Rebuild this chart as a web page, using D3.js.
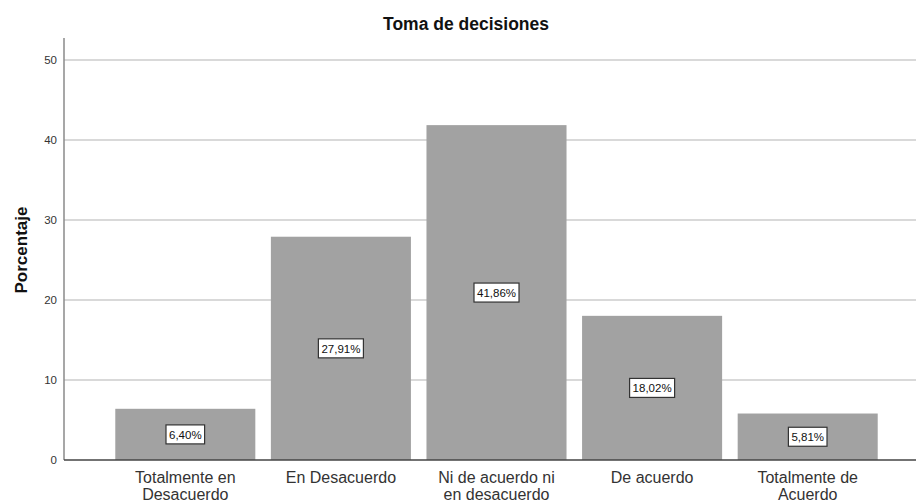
<!DOCTYPE html>
<html>
<head>
<meta charset="utf-8">
<script src="https://cdn.jsdelivr.net/npm/d3@7"></script>
<style>
  html, body { margin: 0; padding: 0; background: #fff; }
  svg { display: block; font-family: "Liberation Sans", Arial, sans-serif; }
</style>
</head>
<body>
<svg id="chart" width="916" height="504"></svg>
<script>
// categories and values
const categories = [
  ["Totalmente en", "Desacuerdo"],
  ["En Desacuerdo"],
  ["Ni de acuerdo ni", "en desacuerdo"],
  ["De acuerdo"],
  ["Totalmente de", "Acuerdo"]
];
const values = [6.40, 27.91, 41.86, 18.02, 5.81];
const valueLabels = ["6,40%", "27,91%", "41,86%", "18,02%", "5,81%"];
const yTicks = [0, 10, 20, 30, 40, 50];

const svg = d3.select("#chart");
const W = +svg.attr("width");

const left = 64, zeroY = 460;
const keys = categories.map((c, i) => i);

const x = d3.scaleBand().domain(keys).range([107.5, 885.5])
  .paddingInner(0.1).paddingOuter(0.05);
const y = d3.scaleLinear().domain([0, 50]).range([zeroY, 60]);

// title
svg.append("text")
  .attr("x", 466).attr("y", 30)
  .attr("text-anchor", "middle")
  .style("font-size", "17.5px").style("font-weight", "bold").attr("fill", "#111")
  .text("Toma de decisiones");

// y label
svg.append("text")
  .attr("transform", `translate(27,250) rotate(-90)`)
  .attr("text-anchor", "middle")
  .style("font-size", "17px").style("font-weight", "bold").attr("fill", "#111")
  .text("Porcentaje");

// gridlines
svg.append("g").selectAll("line")
  .data(yTicks.filter(t => t > 0))
  .join("line")
  .attr("x1", left).attr("x2", W)
  .attr("y1", d => y(d)).attr("y2", d => y(d))
  .attr("stroke", "#d9d9d9").attr("stroke-width", 2);

// y axis (no visible tick marks in the reference)
const yAxis = svg.append("g").attr("transform", `translate(${left},0)`)
  .call(d3.axisLeft(y).tickValues(yTicks).tickSize(0).tickPadding(7));
yAxis.select(".domain").remove();
yAxis.selectAll("text").style("font-size", "11.5px").attr("fill", "#333")
  .style("font-family", "Liberation Sans, Arial, sans-serif");
svg.append("line")
  .attr("x1", left).attr("x2", left).attr("y1", 38).attr("y2", zeroY)
  .attr("stroke", "#8a8a8a").attr("stroke-width", 1.5);

// bars
svg.append("g").selectAll("rect")
  .data(values)
  .join("rect")
  .attr("x", (d, i) => x(i))
  .attr("width", x.bandwidth())
  .attr("y", d => y(d))
  .attr("height", d => zeroY - y(d))
  .attr("fill", "#a2a2a2");

// baseline
svg.append("line")
  .attr("x1", left).attr("x2", W).attr("y1", zeroY).attr("y2", zeroY)
  .attr("stroke", "#444").attr("stroke-width", 1.5);

// value labels
const lab = svg.append("g").selectAll("g")
  .data(values)
  .join("g")
  .attr("transform", (d, i) => `translate(${x(i) + x.bandwidth() / 2},${(y(d) + zeroY) / 2})`);
lab.append("text")
  .attr("text-anchor", "middle").attr("dy", "0.36em")
  .style("font-size", "11.5px").attr("fill", "#111")
  .text((d, i) => valueLabels[i]);
lab.each(function () {
  const g = d3.select(this);
  const b = g.select("text").node().getBBox();
  g.insert("rect", "text")
    .attr("x", b.x - 3).attr("y", -9.5)
    .attr("width", b.width + 6).attr("height", 19)
    .attr("fill", "#fff").attr("stroke", "#333").attr("stroke-width", 1.2);
});

// category labels
const cat = svg.append("g").selectAll("text")
  .data(categories)
  .join("text")
  .attr("x", (d, i) => x(i) + x.bandwidth() / 2)
  .attr("y", 483)
  .attr("text-anchor", "middle")
  .style("font-size", "16px").attr("fill", "#333");
cat.each(function (d) {
  const t = d3.select(this);
  d.forEach((line, j) => {
    t.append("tspan")
      .attr("x", t.attr("x"))
      .attr("dy", j === 0 ? 0 : 17)
      .text(line);
  });
});
</script>
</body>
</html>
